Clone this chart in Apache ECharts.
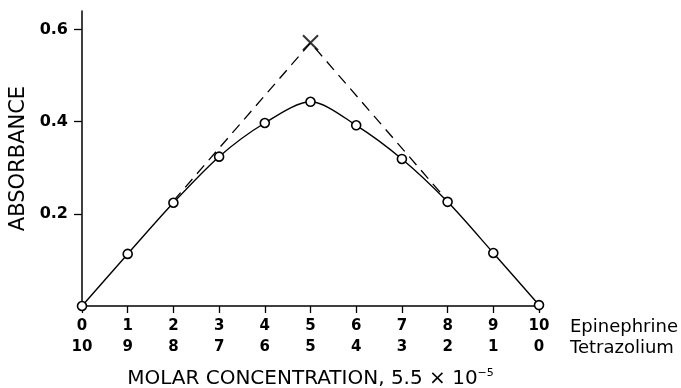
<!DOCTYPE html>
<html><head><meta charset="utf-8">
<script src="https://cdn.jsdelivr.net/npm/echarts@6/dist/echarts.min.js"></script>
<style>html,body{margin:0;padding:0;background:#fff}#c{width:681px;height:388px}</style>
</head><body><div id="c"></div>
<script>
const epinephrine = [0,1,2,3,4,5,6,7,8,9,10];
const tetrazolium = [10,9,8,7,6,5,4,3,2,1,0];
const absorbance = [0.0,0.113,0.224,0.324,0.397,0.443,0.392,0.319,0.226,0.115,0.002];
const extrapX = [2,5,8];
const extrapY = [0.228,0.571,0.228];
const peakX = [5];
const peakY = [0.571];
const yTicks = [0.2,0.4,0.6];

const chart = echarts.init(document.getElementById('c'));
const F = '"DejaVu Sans", "Liberation Sans", Arial, sans-serif';
chart.setOption({
  animation:false,
  grid:{left:82,right:142,top:11,bottom:82,containLabel:false,outerBoundsMode:'none'},
  xAxis:{type:'value',min:0,max:10,interval:1,
    axisLine:{lineStyle:{color:'#000',width:1.5}},
    axisTick:{length:7,inside:false,lineStyle:{color:'#000',width:1.3}},
    splitLine:{show:false},
    axisLabel:{margin:10,formatter:v=>{const i=epinephrine.indexOf(v);return '{a|'+epinephrine[i]+'}\n{a|'+tetrazolium[i]+'}';},
      rich:{a:{fontFamily:F,fontWeight:'bold',fontSize:15,color:'#000',lineHeight:21}}},
    name:'MOLAR CONCENTRATION, 5.5 \u00D7 10{s|\u22125}',nameLocation:'middle',nameGap:62,
    nameTextStyle:{fontFamily:F,fontSize:20,color:'#000',rich:{s:{fontFamily:F,fontSize:11,color:'#000',verticalAlign:'top',padding:[0,0,10,0]}}}
  },
  yAxis:{type:'value',min:0,max:0.64,
    axisLine:{show:true,lineStyle:{color:'#000',width:1.5}},
    axisTick:{show:true,length:8,customValues:yTicks,lineStyle:{color:'#000',width:1.3}},
    splitLine:{show:false},
    axisLabel:{customValues:yTicks,margin:14,fontFamily:F,fontWeight:'bold',fontSize:16,color:'#000',formatter:v=>v.toFixed(1)},
    name:'ABSORBANCE',nameLocation:'middle',nameGap:44,nameRotate:90,
    nameTextStyle:{fontFamily:F,fontSize:21,color:'#000'}
  },
  graphic:[
    {type:'text',left:570,top:318,style:{text:'Epinephrine',font:'18px '+F,fill:'#000'}},
    {type:'text',left:570,top:339,style:{text:'Tetrazolium',font:'18px '+F,fill:'#000'}}
  ],
  series:[
    {type:'line',data:extrapX.map((x,i)=>[x,extrapY[i]]),symbol:'none',z:1,
      lineStyle:{color:'#000',width:1.3,type:[11,7]}},
    {type:'line',data:epinephrine.map((x,i)=>[x,absorbance[i]]),smooth:0.3,symbol:'circle',symbolSize:9,z:3,
      lineStyle:{color:'#000',width:1.4},itemStyle:{color:'#fff',borderColor:'#000',borderWidth:1.6}},
    {type:'scatter',data:peakX.map((x,i)=>[x,peakY[i]]),symbol:'path://M0,0L10,10M10,0L0,10',symbolSize:15,z:4,
      itemStyle:{color:'none',borderColor:'#000',borderWidth:2}}
  ]
});
</script></body></html>
